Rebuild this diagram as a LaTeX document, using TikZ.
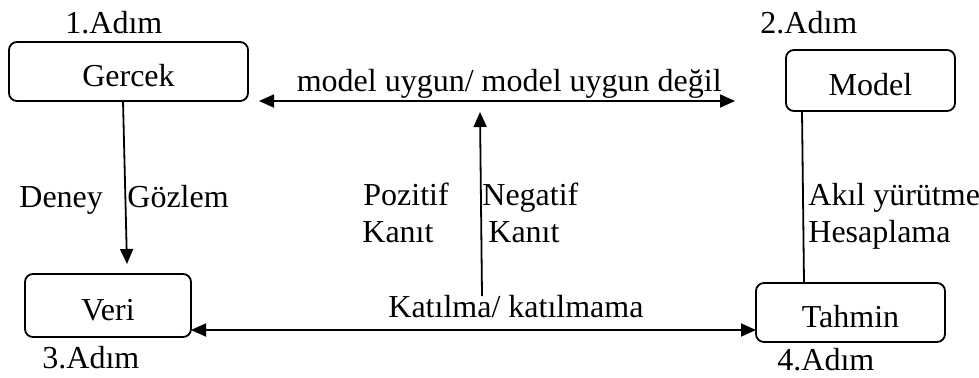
\documentclass[tikz,border=0pt]{standalone}
\usepackage{fontspec}
\setmainfont{Liberation Serif}
\usetikzlibrary{arrows.meta}
\begin{document}
\begin{tikzpicture}[x=0.5pt,y=-0.5pt,
  every node/.style={font=\fontsize{16}{19}\selectfont},
  stepbox/.style={draw, line width=0.9pt, rounded corners=4pt, inner sep=0pt,
    text height=14.5pt, text depth=0pt},
  lbl/.style={inner sep=0pt, anchor=base west},
  conn/.style={line width=0.9pt},
  tip/.style={-{Triangle[length=7.5pt,width=6.5pt]}},
  tips/.style={{Triangle[length=7.5pt,width=6.5pt]}-{Triangle[length=7.5pt,width=6.5pt]}}]
\useasboundingbox (0,0) rectangle (979,377);
% boxes
\node[stepbox, minimum width=119.5pt, minimum height=29.5pt] (ger) at (128.5,71.5) {Gercek};
\node[stepbox, minimum width=84.5pt, minimum height=30.5pt] (mod) at (870.5,80.5) {Model};
\node[stepbox, minimum width=83pt, minimum height=31.5pt] (ver) at (108,305.5) {Veri};
\node[stepbox, minimum width=94.5pt, minimum height=29.5pt] (tah) at (850.5,312.5) {Tahmin};
% step labels
\node[lbl] (a1) at (65,33) {1.Adım};
\node[lbl] (a2) at (760,33) {2.Adım};
\node[lbl] (a3) at (42,368) {3.Adım};
\node[lbl] (a4) at (777,370) {4.Adım};
% text labels
\node[inner sep=0pt, anchor=base east] (mu) at (722,91) {model uygun/ model uygun değil};
\node[lbl] (den) at (19,207) {Deney};
\node[lbl] (goz) at (127,207) {Gözlem};
\node[lbl] (poz) at (363,205) {Pozitif};
\node[lbl] (k1) at (362,242) {Kanıt};
\node[lbl] (neg) at (482,205) {Negatif};
\node[lbl] (k2) at (488,242) {Kanıt};
\node[lbl] (aky) at (808,205) {Akıl yürütme};
\node[lbl] (hes) at (808,242) {Hesaplama};
\node[lbl] (kat) at (388,317) {Katılma/ katılmama};
% connector end points
\coordinate (tl) at (259,101);
\coordinate (tr) at (735,101);
\coordinate (g1) at (123,101);
\coordinate (v1) at (127,264);
\coordinate (m1) at (482,296);
\coordinate (m2) at (480,112);
\coordinate (mo) at (802,111);
\coordinate (ta) at (804,283);
\coordinate (vr) at (191,330);
\coordinate (tw) at (756,330);
% connectors
\draw[conn, tips] (tl) -- (tr);
\draw[conn, tip] (g1) -- (v1);
\draw[conn, tip] (m1) -- (m2);
\draw[conn] (mo) -- (ta);
\draw[conn, tips] (vr) -- (tw);
\end{tikzpicture}
\end{document}
